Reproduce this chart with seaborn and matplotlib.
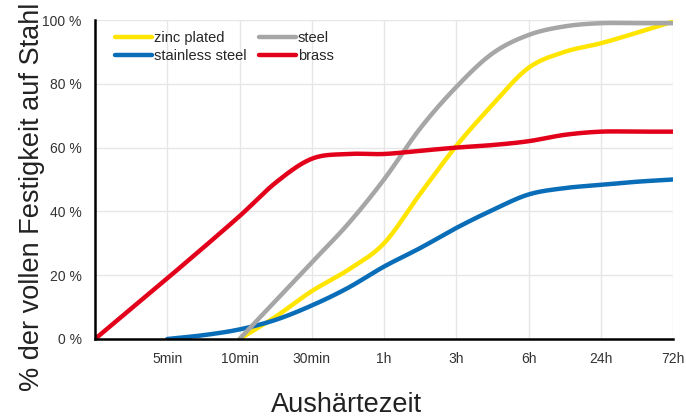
import numpy as np
import pandas as pd
import seaborn as sns
import matplotlib.pyplot as plt

sns.set_style("white")
plt.rcParams["font.family"] = ["Liberation Sans", "DejaVu Sans"]

# x axis categories (position index 0..8)
tick_labels = ["", "5min", "10min", "30min", "1h", "3h", "6h", "24h", "72h"]

# values (x in category positions, y in %)
zinc_x = [2, 2.5, 3, 3.5, 4, 4.5, 5, 5.5, 6, 6.5, 7, 7.5, 8]
zinc_y = [0, 7, 15, 21.6, 30, 45.5, 60.5, 73.4, 85, 90, 92.7, 96, 99.5]

stainless_x = [1, 1.5, 2, 2.5, 3, 3.5, 4, 4.5, 5, 5.5, 6, 6.5, 7, 7.5, 8]
stainless_y = [0, 1.2, 3, 6, 10.5, 16, 22.7, 28.5, 34.8, 40.4, 45.3, 47.3, 48.3, 49.3, 50]

steel_x = [2, 2.5, 3, 3.5, 4, 4.5, 5, 5.5, 6, 6.5, 7, 7.5, 8]
steel_y = [0, 12, 24, 36, 50, 66, 79, 89.5, 95.3, 98, 99, 99, 99]

brass_x = [0, 1, 2, 2.5, 3, 3.5, 4, 4.5, 5, 5.5, 6, 6.5, 7, 7.5, 8]
brass_y = [0, 19, 38.5, 49, 56.5, 58, 58, 59, 60, 60.8, 62, 64, 65, 65, 65]

series = {
    "zinc plated": (zinc_x, zinc_y),
    "stainless steel": (stainless_x, stainless_y),
    "steel": (steel_x, steel_y),
    "brass": (brass_x, brass_y),
}
colors = {"zinc plated": "#FFE500", "stainless steel": "#0A6DB8",
          "steel": "#A6A6A6", "brass": "#E2001A"}


def smooth(x, y, n=300):
    # cubic Hermite curve through the read points, only to draw a smooth line
    x = np.asarray(x, float)
    y = np.asarray(y, float)
    h = np.diff(x)
    m = np.empty_like(y)
    m[1:-1] = (y[2:] - y[:-2]) / (x[2:] - x[:-2])
    m[0] = (y[1] - y[0]) / h[0]
    m[-1] = (y[-1] - y[-2]) / h[-1]
    xs = np.linspace(x[0], x[-1], n)
    i = np.clip(np.searchsorted(x, xs) - 1, 0, len(h) - 1)
    t = (xs - x[i]) / h[i]
    ys = ((2 * t**3 - 3 * t**2 + 1) * y[i] + (t**3 - 2 * t**2 + t) * h[i] * m[i]
          + (-2 * t**3 + 3 * t**2) * y[i + 1] + (t**3 - t**2) * h[i] * m[i + 1])
    return xs, ys


frames = []
for name, (sx, sy) in series.items():
    xs, ys = smooth(sx, sy)
    frames.append(pd.DataFrame({"x": xs, "y": ys, "series": name}))
df = pd.concat(frames, ignore_index=True)

fig = plt.figure(figsize=(6.86, 4.17), dpi=100)
ax = fig.add_axes([95 / 686, 1 - 339 / 417, 578 / 686, 319 / 417])

sns.lineplot(data=df, x="x", y="y", hue="series", hue_order=list(series),
             palette=colors, estimator=None, sort=False, linewidth=3.2,
             legend=False, ax=ax, zorder=3)

ax.set_xlim(0, 8)
ax.set_ylim(0, 100)
ax.set_xticks(range(9))
ax.set_xticklabels(tick_labels)
ax.set_xticks(np.arange(0.5, 8, 1), minor=True)
ax.set_yticks(range(0, 101, 20))
ax.set_yticklabels([f"{v} %" for v in range(0, 101, 20)])
ax.set_yticks(range(10, 100, 20), minor=True)

ax.grid(True, which="major", color="#E6E6E6", linewidth=1)
for s in ["top", "right"]:
    ax.spines[s].set_visible(False)
for s in ["left", "bottom"]:
    ax.spines[s].set_color("black")
    ax.spines[s].set_linewidth(1.8)
    ax.spines[s].set_zorder(4)

ax.tick_params(which="major", direction="inout", length=7, width=1.6,
               color="black", labelsize=10, labelcolor="#333333")
ax.tick_params(which="minor", direction="inout", length=5, width=1.6, color="black")
ax.tick_params(axis="y", which="major", pad=6)
ax.tick_params(axis="x", which="major", pad=6)

ax.set_xlabel("Aushärtezeit", fontsize=19.5, color="#222222", va="center")
ax.set_ylabel("% der vollen Festigkeit auf Stahl", fontsize=19.5, color="#222222", va="center")
ax.xaxis.set_label_coords(0.436, -0.207)
ax.yaxis.set_label_coords(-0.109, 0.445)

handles = ax.get_lines()[:4]
ax.legend(handles, list(series), ncol=2, loc="upper left",
          bbox_to_anchor=(20 / 578, 1 - 11 / 319), frameon=False, fontsize=10.5,
          handlelength=2.55, handletextpad=0.15, columnspacing=0.8,
          labelspacing=0.3, borderpad=0, borderaxespad=0)

fig.savefig("out.png", dpi=100)
